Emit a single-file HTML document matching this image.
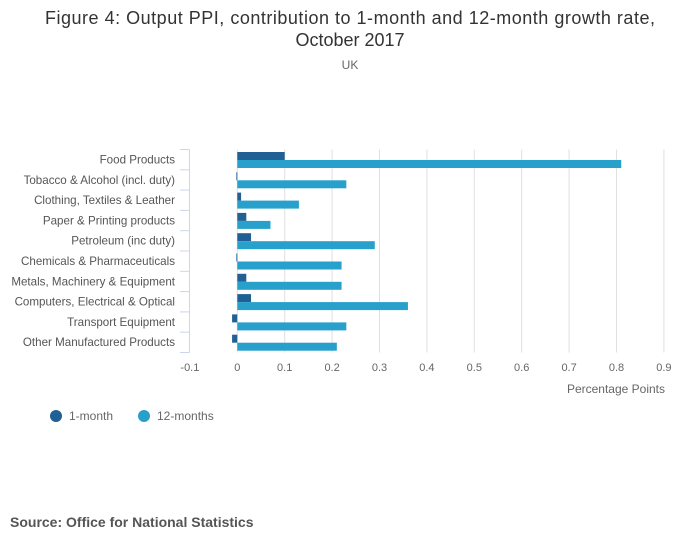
<!DOCTYPE html>
<html><head><meta charset="utf-8"><style>
body{margin:0;background:#fff;width:700px;height:549px;overflow:hidden;font-family:"Liberation Sans",sans-serif}
</style></head><body>
<svg width="700" height="549" xmlns="http://www.w3.org/2000/svg" font-family="Liberation Sans, sans-serif">
<text x="350" y="24" text-anchor="middle" font-size="18" fill="#333" textLength="610">Figure 4: Output PPI, contribution to 1-month and 12-month growth rate,</text>
<text x="350" y="46" text-anchor="middle" font-size="18" fill="#333">October 2017</text>
<text x="350" y="69" text-anchor="middle" font-size="12" fill="#666">UK</text>
<g id="grid"></g>
<g id="bars"></g>
<g id="axes"></g>
<text x="665" y="393" text-anchor="end" font-size="12" fill="#666">Percentage Points</text>
<g><circle cx="56" cy="416" r="6" fill="#206095"/><text x="69" y="420" font-size="12" fill="#666">1-month</text></g>
<g><circle cx="144" cy="416" r="6" fill="#27a0cc"/><text x="157" y="420" font-size="12" fill="#666">12-months</text></g>
<text x="10" y="527" font-size="14" font-weight="bold" fill="#555">Source: Office for National Statistics</text>
</svg>
<script>
const categories=["Food Products","Tobacco & Alcohol (incl. duty)","Clothing, Textiles & Leather","Paper & Printing products","Petroleum (inc duty)","Chemicals & Pharmaceuticals","Metals, Machinery & Equipment","Computers, Electrical & Optical","Transport Equipment","Other Manufactured Products"];
const oneMonth=[0.1,-0.002,0.008,0.019,0.029,-0.002,0.019,0.029,-0.011,-0.011];
const twelveMonths=[0.81,0.23,0.13,0.07,0.29,0.22,0.22,0.36,0.23,0.21];
const xTicks=[-0.1,0,0.1,0.2,0.3,0.4,0.5,0.6,0.7,0.8,0.9];
const NS="http://www.w3.org/2000/svg";
const x=v=>237.3+v*474;
const top0=149.5,band=20.3;
const y=i=>top0+i*band;
function mk(t,a,p){const e=document.createElementNS(NS,t);for(const k in a)e.setAttribute(k,a[k]);p.appendChild(e);return e;}
const grid=document.getElementById('grid'),bars=document.getElementById('bars'),axes=document.getElementById('axes');
xTicks.forEach(v=>{
 if(v!==-0.1){const l=mk('line',{x1:x(v),x2:x(v),y1:top0,y2:y(10),stroke:'#e0e0e0'},grid);
 
 }
 const t=mk('text',{x:x(v),y:371,'text-anchor':'middle','font-size':11,fill:'#666'},axes);
 t.textContent=String(v);
 
 
});
const ax=mk('line',{x1:189.5,x2:189.5,y1:top0,y2:y(10),stroke:'#ccd6eb'},axes);


for(let i=0;i<=10;i++){const tk=mk('line',{x1:180,x2:189.5,y1:y(i),y2:y(i),stroke:'#ccd6eb'},axes);
 
 }
categories.forEach((c,i)=>{
 const t=mk('text',{x:175,y:y(i)+14,'text-anchor':'end','font-size':11.6,fill:'#555'},axes);
 t.textContent=c;
 
 
 const a=oneMonth[i],b=twelveMonths[i];
 const r1=mk('rect',{x:Math.min(x(0),x(a)),y:y(i)+2.5,width:Math.abs(x(a)-x(0)),height:8,fill:'#206095'},bars);
 
 
 const r2=mk('rect',{x:Math.min(x(0),x(b)),y:y(i)+10.5,width:Math.abs(x(b)-x(0)),height:8,fill:'#27a0cc'},bars);
 
 
});
</script>
</body></html>
